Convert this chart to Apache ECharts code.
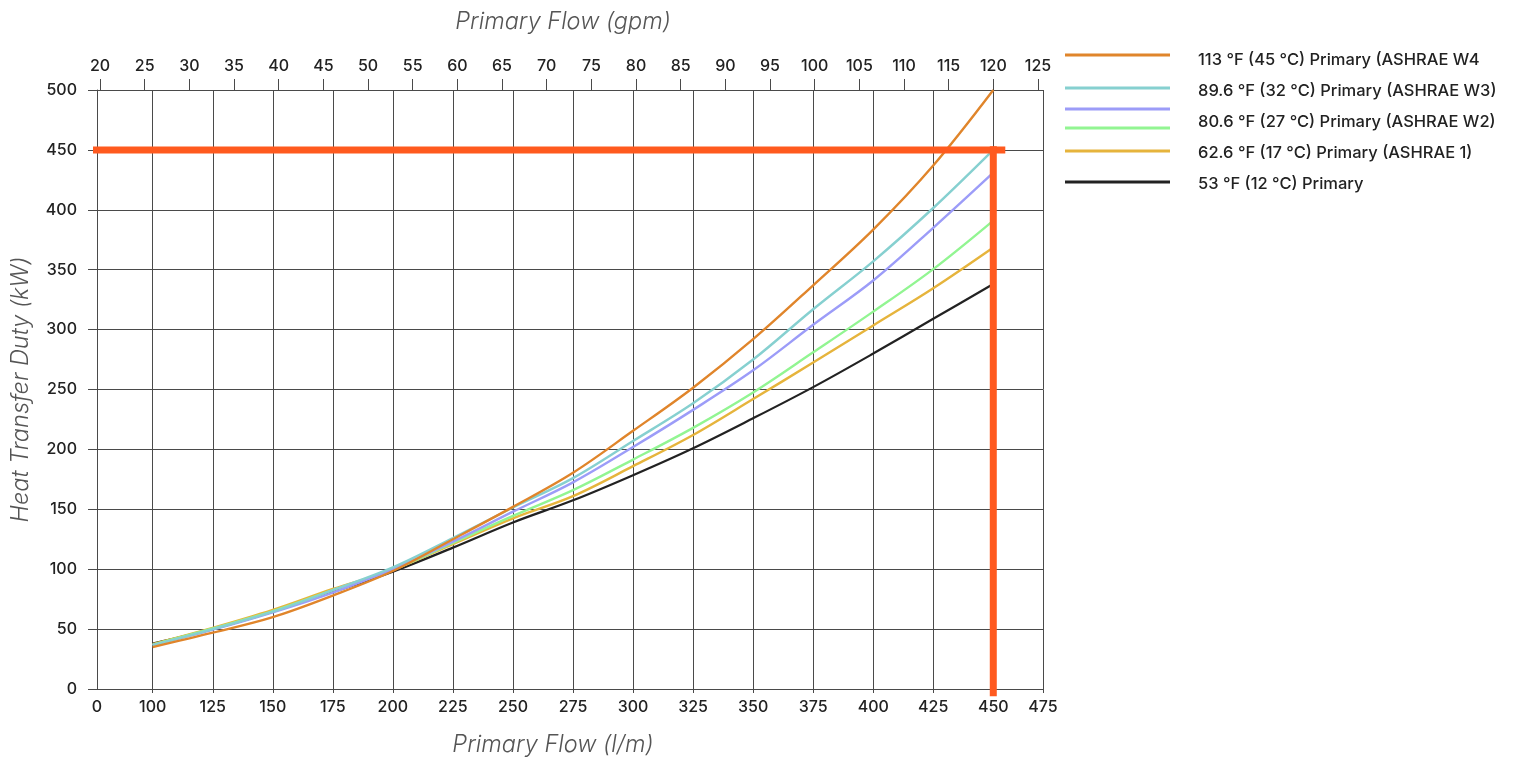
<!DOCTYPE html>
<html><head><meta charset="utf-8">
<script src="https://cdn.jsdelivr.net/npm/echarts@6/dist/echarts.min.js"></script>
<style>html,body{margin:0;padding:0;background:#fff;} #c{width:1523px;height:761px;}</style>
</head><body><div id="c"></div>
<script>
// ---- data ----
const flowLpm = [100,125,150,175,200,225,250,275,300,325,350,375,400,425,450];
const dutyW4  = [35, 47, 60, 78, 98.5, 125, 152, 180.5, 215.5, 251.5, 292, 337, 383.5, 437, 500];
const dutyW3  = [36.5, 50, 64.5, 82.5, 101.5, 126, 151.5, 176, 207, 238.5, 275, 317, 357, 401.5, 450];
const dutyW2  = [36.5, 49.5, 64, 80.5, 100, 123, 148, 172.5, 202, 233, 266, 304, 341, 385, 431];
const dutyUnl = [37, 50.5, 65, 82.5, 99.5, 122, 144.5, 166, 191.5, 218, 247.5, 281, 315, 350.5, 391];
const dutyA1  = [37.5, 51, 66, 83.5, 99.5, 121, 142.5, 161, 186, 212, 242, 272.5, 303.5, 334.5, 368.5];
const duty53  = [38, 50, 64.5, 81, 98, 118, 139, 157.5, 178.5, 201, 226, 252, 280, 309, 338];

const seriesNames = [
  '113 °F (45 °C) Primary (ASHRAE W4',
  '89.6 °F (32 °C) Primary (ASHRAE W3)',
  '80.6 °F (27 °C) Primary (ASHRAE W2)',
  'Unlabelled curve',
  '62.6 °F (17 °C) Primary (ASHRAE 1)',
  '53 °F (12 °C) Primary'
];
const legendTextNames = [seriesNames[0], seriesNames[1], seriesNames[2], seriesNames[4], seriesNames[5]];

const flowTicks = [100,125,150,175,200,225,250,275,300,325,350,375,400,425,450];
const flowTickLabels = ['0','100','125','150','175','200','225','250','275','300','325','350','375','400','425','450','475'];
const gpmTicks = [20,25,30,35,40,45,50,55,60,65,70,75,80,85,90,95,100,105,110,115,120,125];
const dutyTicks = [0,50,100,150,200,250,300,350,400,450,500];

const designFlow = 450;   // l/m
const designDuty = 450;   // kW

// ---- layout / style ----
const xMin = 76.8, xMax = 470.7;      // axis extent (left edge labelled 0, right edge 475)
const gMin = 19.66, gMax = 125.56;    // top gpm axis extent
const colors = ['#E0852B', '#86D0D0', '#9C9CF8', '#92F592', '#E6B43C', '#222222'];
const dutyArrays = [dutyW4, dutyW3, dutyW2, dutyUnl, dutyA1, duty53];
const iconCenters = [55, 88, 109, 128, 151, 182];
const FONT = 'Inter, "Noto Sans", sans-serif';
const gridColor = '#4a4a4a';
const markColor = '#FF5A1F';

const xLabelValues = [xMin].concat(flowTicks, [xMax]);
const xTickValues = flowTicks.concat([xMax]);

const series = [];
// draw black first so orange ends on top
for (let i = dutyArrays.length - 1; i >= 0; i--) {
  series.push({
    name: seriesNames[i], type: 'line', xAxisIndex: 0, yAxisIndex: 0,
    data: flowLpm.map((x, k) => [x, dutyArrays[i][k]]),
    smooth: 0.35, symbol: 'none', silent: true,
    lineStyle: { color: colors[i], width: i === 5 ? 2.2 : 2.4 },
    itemStyle: { color: colors[i] }, z: 3
  });
}
series.push({
  name: 'Design duty', type: 'line', xAxisIndex: 0, yAxisIndex: 0, clip: false,
  data: [[72.5, designDuty], [455, designDuty]], symbol: 'none', silent: true,
  lineStyle: { color: markColor, width: 7, cap: 'butt' }, z: 6
});
series.push({
  name: 'Design flow', type: 'line', xAxisIndex: 0, yAxisIndex: 0, clip: false,
  data: [[designFlow, 453], [designFlow, -6]], symbol: 'none', silent: true,
  lineStyle: { color: markColor, width: 7, cap: 'butt' }, z: 6
});

const legends = seriesNames.map((n, i) => ({
  data: [n], left: 1065, top: iconCenters[i] - 1.5, icon: 'rect',
  itemWidth: 105, itemHeight: 3, formatter: () => '', selectedMode: false,
  textStyle: { fontSize: 1, lineHeight: 1 }, padding: 0
}));
legends.push({
  data: legendTextNames, left: 1192, top: 51, orient: 'vertical', icon: 'rect',
  itemWidth: 1, itemHeight: 1, itemGap: 12, selectedMode: false, padding: 0,
  itemStyle: { color: 'rgba(0,0,0,0)', opacity: 0 },
  textStyle: { fontFamily: FONT, fontSize: 16.5, fontWeight: 500, color: '#222', lineHeight: 19 }
});

const labelStyle = { fontFamily: FONT, fontSize: 16, fontWeight: 500, color: '#222' };
const nameStyle = { fontFamily: FONT, fontSize: 23.5, fontStyle: 'italic', fontWeight: 300, color: '#555' };

const option = {
  animation: false,
  backgroundColor: '#fff',
  grid: { left: 97, top: 90, width: 946, height: 600, containLabel: false },
  legend: legends,
  xAxis: [{
    type: 'value', position: 'bottom', min: xMin, max: xMax,
    name: 'Primary Flow (l/m)', nameLocation: 'middle', nameGap: 44,
    nameTextStyle: Object.assign({ padding: [0, 34, 0, 0] }, nameStyle),
    axisLine: { show: true, onZero: false, lineStyle: { color: gridColor, width: 1 } },
    axisTick: { show: true, length: 4, customValues: xTickValues, lineStyle: { color: gridColor } },
    axisLabel: Object.assign({ margin: 10, customValues: xLabelValues,
      formatter: (v) => { const k = xLabelValues.findIndex(t => Math.abs(t - v) < 1e-6); return k >= 0 ? flowTickLabels[k] : ''; } }, labelStyle),
    splitLine: { show: true, lineStyle: { color: gridColor, width: 1 } }
  }, {
    type: 'value', position: 'top', min: gMin, max: gMax,
    name: 'Primary Flow (gpm)', nameLocation: 'middle', nameGap: 57,
    nameTextStyle: Object.assign({ padding: [0, 14, 0, 0] }, nameStyle),
    axisLine: { show: true, onZero: false, lineStyle: { color: gridColor, width: 1 } },
    axisTick: { show: true, length: 11, customValues: gpmTicks, lineStyle: { color: gridColor } },
    axisLabel: Object.assign({ margin: 16, customValues: gpmTicks }, labelStyle),
    splitLine: { show: false }
  }],
  yAxis: [{
    type: 'value', min: 0, max: 500, interval: 50,
    name: 'Heat Transfer Duty (kW)', nameLocation: 'middle', nameGap: 65, nameRotate: 90,
    nameTextStyle: nameStyle,
    axisLine: { show: true, lineStyle: { color: gridColor, width: 1 } },
    axisTick: { show: true, length: 9, lineStyle: { color: gridColor } },
    axisLabel: Object.assign({ margin: 20 }, labelStyle),
    splitLine: { show: true, lineStyle: { color: gridColor, width: 1 } }
  }],
  series: series
};
const chart = echarts.init(document.getElementById('c'), null, { renderer: 'canvas' });
chart.setOption(option);
</script></body></html>
